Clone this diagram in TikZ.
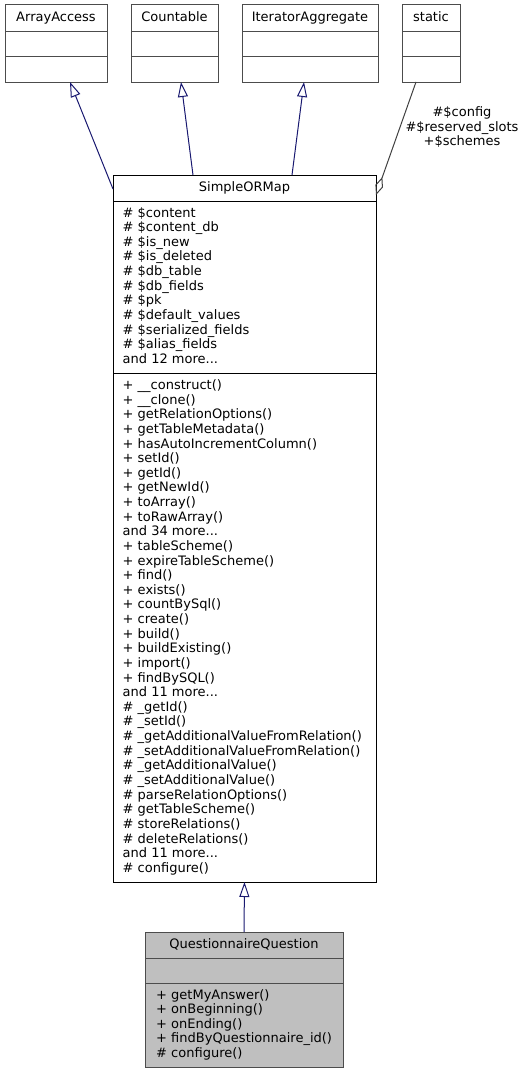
\documentclass[tikz,border=0pt]{standalone}
\usepackage{fontspec}
\setmainfont{DejaVu Sans}
\usetikzlibrary{arrows.meta}
\definecolor{midnight}{HTML}{191970}
\newcommand{\andmore}[1]{and #1 more...}

\begin{document}
\begin{tikzpicture}[x=1pt, y=-1pt,
    cls/.style={draw=black!70, line width=1pt, anchor=north west, inner sep=0pt, outer sep=0pt},
    ttl/.style={anchor=base, inner sep=0pt, font=\fontsize{13}{14.63}\selectfont},
    mem/.style={anchor=base west, inner sep=0pt, font=\fontsize{13}{14.63}\selectfont},
    inh/.style={draw=midnight, line width=1pt, -{Triangle[open, length=15pt, width=10pt]}},
    agg/.style={draw=black!75, line width=1pt, {Diamond[open, length=19pt, width=8pt]}-}]
    \useasboundingbox (0,0) rectangle (529,1073);

    \foreach \nm/\xx/\ww/\lbl in {arrayaccess/5/102/ArrayAccess, countable/131/87/Countable,
        iteragg/242/136/IteratorAggregate, static/402/58/static} {
        \node[cls, minimum width=\ww pt, minimum height=77pt] (\nm) at (\xx,5) {};
        \node[ttl] (\nm-t) at ({\xx+\ww/2},22) {\lbl};
        \draw[black!70, line width=1pt] ([yshift=-27pt]\nm.north west) -- ([yshift=-27pt]\nm.north east);
        \draw[black!70, line width=1pt] ([yshift=-52pt]\nm.north west) -- ([yshift=-52pt]\nm.north east);
    }

    \node[cls, draw=black, minimum width=263pt, minimum height=707pt] (smap) at (113,175) {};
    \node[ttl] (smap-t) at (244.5,191) {SimpleORMap};
    \draw[line width=1pt] ([yshift=-26pt]smap.north west) -- ([yshift=-26pt]smap.north east);
    \draw[line width=1pt] ([yshift=-198pt]smap.north west) -- ([yshift=-198pt]smap.north east);

    \foreach \m [count=\i from 0] in {\# \$content, \# \$content\_db, \# \$is\_new, \# \$is\_deleted,
        \# \$db\_table, \# \$db\_fields, \# \$pk, \# \$default\_values, \# \$serialized\_fields,
        \# \$alias\_fields, \andmore{12}}
        \node[mem] (att\i) at (122.5,{217+\i*14.63}) {\m};

    \foreach \m [count=\i from 0] in {+ \_\_construct(), + \_\_clone(), + getRelationOptions(),
        + getTableMetadata(), + hasAutoIncrementColumn(), + setId(), + getId(), + getNewId(),
        + toArray(), + toRawArray(), \andmore{34}, + tableScheme(), + expireTableScheme(),
        + find(), + exists(), + countBySql(), + create(), + build(), + buildExisting(),
        + import(), + findBySQL(), \andmore{11}, \# \_getId(), \# \_setId(),
        \# \_getAdditionalValueFromRelation(), \# \_setAdditionalValueFromRelation(),
        \# \_getAdditionalValue(), \# \_setAdditionalValue(), \# parseRelationOptions(),
        \# getTableScheme(), \# storeRelations(), \# deleteRelations(), \andmore{11},
        \# configure()}
        \node[mem] (op\i) at (122.5,{389.5+\i*14.63}) {\m};

    \node[cls, fill=black!25, minimum width=198pt, minimum height=135pt] (qq) at (145,932) {};
    \node[ttl] (qq-t) at (244,948.5) {QuestionnaireQuestion};
    \draw[black!70, line width=1pt] ([yshift=-26pt]qq.north west) -- ([yshift=-26pt]qq.north east);
    \draw[black!70, line width=1pt] ([yshift=-51pt]qq.north west) -- ([yshift=-51pt]qq.north east);

    \foreach \m [count=\i from 0] in {+ getMyAnswer(), + onBeginning(), + onEnding(),
        + findByQuestionnaire\_id(), \# configure()}
        \node[mem] (qop\i) at (156,{999+\i*14.6}) {\m};

    \draw[inh] ([yshift=-14pt]smap.north west) -- ([xshift=14pt]arrayaccess.south);
    \draw[inh] ([xshift=-51.5pt]smap.north) -- ([xshift=6.5pt]countable.south);
    \draw[inh] ([xshift=47.5pt]smap.north) -- ([xshift=-6pt]iteragg.south);
    \draw[agg] ([yshift=-20pt]smap.north east) -- ([xshift=-15pt]static.south);
    \draw[inh] (qq.north) -- (smap.south);

    \node[ttl, anchor=center, align=center, font=\fontsize{13}{14.5}\selectfont] (static-lbl)
        at (462,127.5) {\#\$config\\\#\$reserved\_slots\\+\$schemes};
\end{tikzpicture}
\end{document}
